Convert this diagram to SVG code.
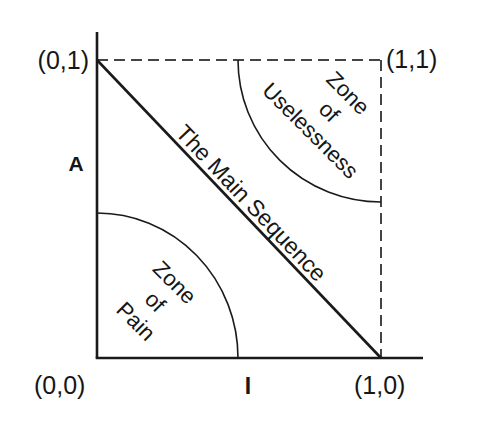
<svg xmlns="http://www.w3.org/2000/svg" width="478" height="427" viewBox="0 0 478 427">
<style>
.axis{stroke:#1a1a1a;stroke-width:2.6;fill:none;stroke-linecap:butt}
.dash{stroke:#444;stroke-width:2;fill:none;stroke-dasharray:11 6}
.arc{stroke:#1a1a1a;stroke-width:1.6;fill:none}
.lbl{font-family:"Liberation Sans",Arial,sans-serif;fill:#161616}
.coord{font-size:25px}
.zone{font-size:22px;text-anchor:middle}
.bold{font-weight:bold}
</style>
<rect width="478" height="427" fill="#fff"/>
<g id="connectors">
<line class="dash" x1="97" y1="60" x2="381" y2="60"/>
<line class="dash" x1="381" y1="60" x2="381" y2="358"/>
<line class="axis" x1="97" y1="32" x2="97" y2="358"/>
<line class="axis" x1="95.7" y1="358" x2="423" y2="358"/>
<line class="axis" x1="97" y1="60" x2="381" y2="358"/>
</g>
<g id="zone-of-pain">
<path class="arc" d="M 97 213 A 141 145 0 0 1 238 358"/>
<g transform="translate(155,302) rotate(45)">
<text class="lbl zone" x="0" y="-20.3">Zone</text>
<text class="lbl zone" x="0" y="7.2">of</text>
<text class="lbl zone" x="0" y="34.7">Pain</text>
</g>
</g>
<g id="zone-of-uselessness">
<path class="arc" d="M 238 60 A 143 142 0 0 0 381 202"/>
<g transform="translate(329,112) rotate(45)">
<text class="lbl zone" x="0" y="-19.3">Zone</text>
<text class="lbl zone" x="0" y="7.2">of</text>
<text class="lbl zone" x="0" y="33.7">Uselessness</text>
</g>
</g>
<g id="main-sequence">
<text class="lbl" font-size="23" transform="translate(97,60) rotate(46.37)" x="107" y="-5">The Main Sequence</text>
</g>
<g id="labels">
<text class="lbl coord" x="89" y="69" text-anchor="end">(0,1)</text>
<text class="lbl coord" x="386" y="68">(1,1)</text>
<text class="lbl coord" x="34" y="394">(0,0)</text>
<text class="lbl coord" x="354" y="394">(1,0)</text>
<text class="lbl bold" font-size="21" x="76" y="171" text-anchor="middle">A</text>
<text class="lbl bold" font-size="23" x="248" y="394" text-anchor="middle">I</text>
</g>
</svg>
